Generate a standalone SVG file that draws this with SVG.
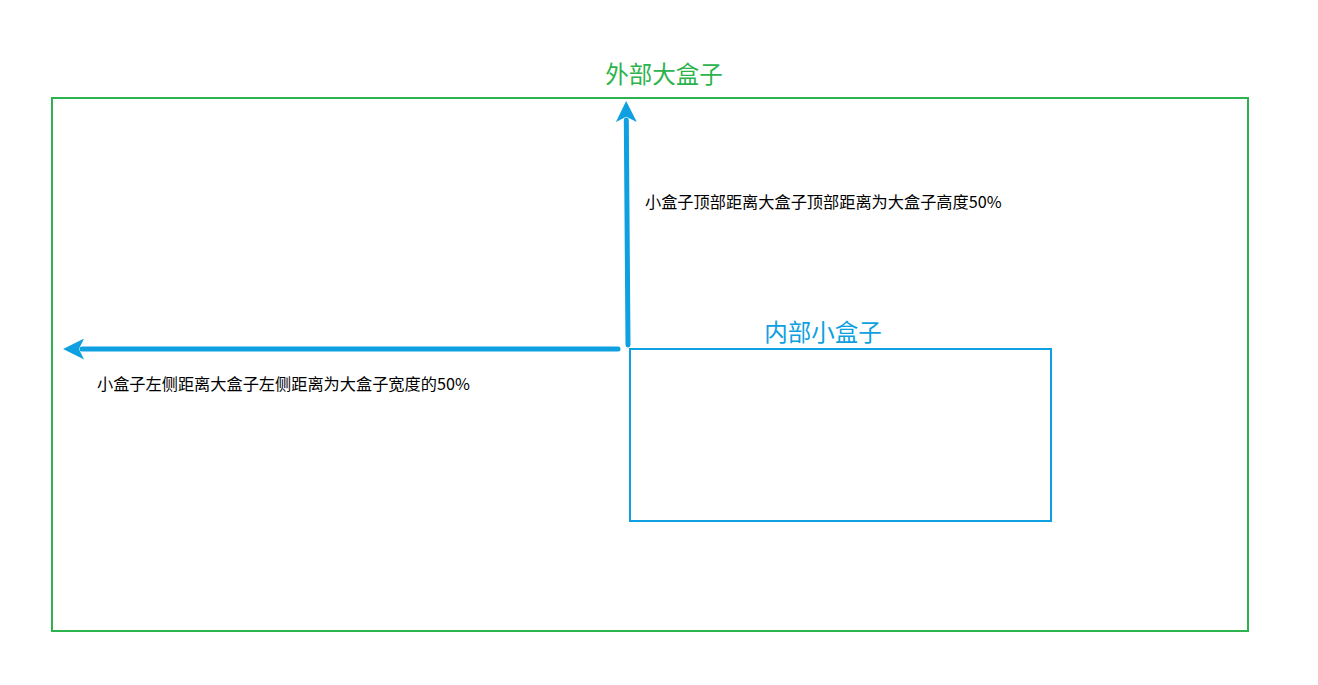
<svg xmlns="http://www.w3.org/2000/svg" width="1318" height="685" viewBox="0 0 1318 685">
<style>
.lbl{font-family:"Noto Sans CJK SC","Liberation Sans",sans-serif}
.big{font-size:23.5px}
.small{font-size:16.2px;fill:#000}
.arrow{stroke:#0ea0e0;stroke-width:5;stroke-linecap:round;fill:none}
</style>
<defs>
<marker id="ah" viewBox="0 0 10 10" refX="1" refY="5" markerWidth="5" markerHeight="4.2" orient="auto" markerUnits="strokeWidth">
<path d="M0,0 L10,5 L0,10 L2.5,5 Z" fill="#0ea0e0"/>
</marker>
</defs>
<rect width="1318" height="685" fill="#fff"/>
<g id="outer">
<rect x="52" y="98" width="1196" height="533" fill="none" stroke="#2db34d" stroke-width="2"/>
<text class="lbl big" x="664" y="83" text-anchor="middle" fill="#2db34d">外部大盒子</text>
</g>
<g id="inner">
<rect x="630" y="349" width="421" height="172" fill="none" stroke="#0ea0e0" stroke-width="2"/>
<text class="lbl big" x="823" y="341" text-anchor="middle" fill="#0ea0e0">内部小盒子</text>
</g>
<g id="connectors">
<path class="arrow" d="M628,345 L626.3,120" marker-end="url(#ah)"/>
<path class="arrow" d="M618,349 L82,349" marker-end="url(#ah)"/>
</g>
<g id="labels">
<text class="lbl small" x="645" y="208">小盒子顶部距离大盒子顶部距离为大盒子高度50%</text>
<text class="lbl small" x="97" y="390">小盒子左侧距离大盒子左侧距离为大盒子宽度的50%</text>
</g>
</svg>
